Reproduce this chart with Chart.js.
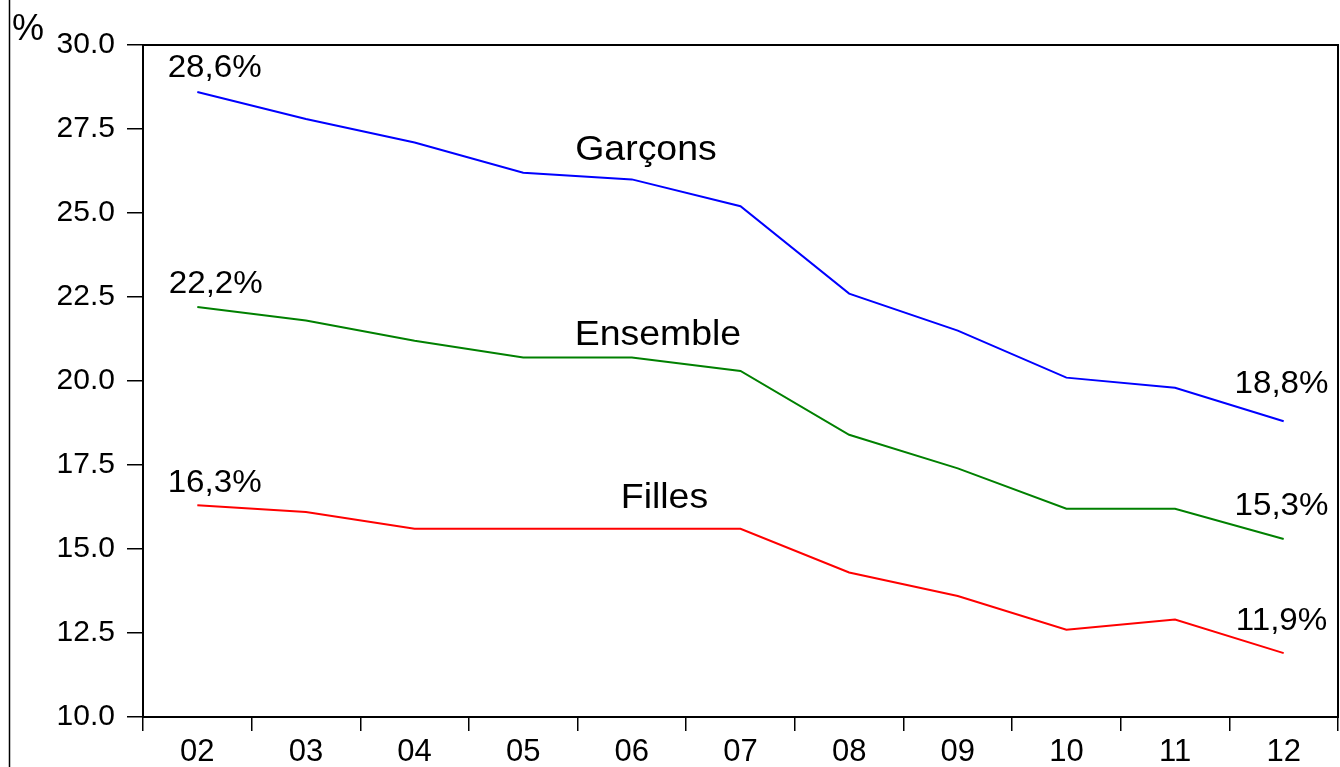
<!DOCTYPE html>
<html>
<head>
<meta charset="utf-8">
<script src="https://cdn.jsdelivr.net/npm/chart.js@4/dist/chart.umd.min.js"></script>
<style>
  html, body { margin: 0; padding: 0; background: #fff; }
  #wrap { width: 1340px; height: 767px; position: relative; }
</style>
</head>
<body>
<div id="wrap"><canvas id="chart"></canvas></div>
<script>
    // annees (2002 - 2012)
    const years = ['02', '03', '04', '05', '06', '07', '08', '09', '10', '11', '12'];
    const garcons = [28.6, 27.8, 27.1, 26.2, 26.0, 25.2, 22.6, 21.5, 20.1, 19.8, 18.8];
    const ensemble = [22.2, 21.8, 21.2, 20.7, 20.7, 20.3, 18.4, 17.4, 16.2, 16.2, 15.3];
    const filles = [16.3, 16.1, 15.6, 15.6, 15.6, 15.6, 14.3, 13.6, 12.6, 12.9, 11.9];
    const yTicks = [10, 12.5, 15, 17.5, 20, 22.5, 25, 27.5, 30];

    // texts placed in data units: [text, category index, y value of baseline]
    const notes = [
        ['28,6%', 0.16, 29.05],
        ['22,2%', 0.17, 22.62],
        ['16,3%', 0.16, 16.70],
        ['18,8%', 9.98, 19.64],
        ['15,3%', 9.98, 16.01],
        ['11,9%', 9.98, 12.59],
        ['Garçons', 4.13, 26.58],
        ['Ensemble', 4.24, 21.07],
        ['Filles', 4.3, 16.22]
    ];

    const font = '"Liberation Sans", Arial, sans-serif';

    const extras = {
        id: 'extras',
        afterDraw(chart) {
            let ctx = chart.ctx;
            let a = chart.chartArea;
            let x = chart.scales.x;
            let y = chart.scales.y;
            ctx.save();
            ctx.strokeStyle = '#000';
            ctx.lineWidth = 2;
            ctx.strokeRect(a.left, a.top, a.right - a.left, a.bottom - a.top);
            // outer left line
            ctx.beginPath();
            ctx.moveTo(9.5, 0);
            ctx.lineTo(9.5, chart.height);
            ctx.lineWidth = 1.5;
            ctx.stroke();
            ctx.fillStyle = '#000';
            ctx.font = '36px ' + font;
            ctx.textBaseline = 'alphabetic';
            ctx.textAlign = 'left';
            ctx.fillText('%', 12, 40);
            ctx.textAlign = 'center';
            let step = x.getPixelForValue(1) - x.getPixelForValue(0);
            notes.forEach(n => {
                let pct = n[0].indexOf('%') > 0;
                ctx.font = (pct ? '31px ' : '35px ') + font;
                let px = x.getPixelForValue(0) + n[1] * step;
                let py = y.getPixelForValue(n[2]);
                ctx.save();
                ctx.translate(px, py);
                ctx.scale(1.07, 1);
                ctx.fillText(n[0], 0, 0);
                ctx.restore();
            });
            ctx.restore();
        }
    };

    new Chart(document.getElementById('chart'), {
        type: 'line',
        data: {
            labels: years,
            datasets: [
                { label: 'Garçons', data: garcons, borderColor: '#0000ff' },
                { label: 'Ensemble', data: ensemble, borderColor: '#008000' },
                { label: 'Filles', data: filles, borderColor: '#ff0000' }
            ]
        },
        options: {
            responsive: true,
            maintainAspectRatio: false,
            animation: false,
            events: [],
            elements: {
                line: { borderWidth: 2, tension: 0 },
                point: { radius: 0 }
            },
            layout: { padding: { top: 45, right: 2, left: 0, bottom: 0 } },
            plugins: { legend: { display: false }, tooltip: { enabled: false } },
            scales: {
                x: {
                    offset: true,
                    grid: { offset: true, drawOnChartArea: false, tickLength: 14, color: '#000', lineWidth: 1.5 },
                    border: { display: false },
                    ticks: { color: '#000', font: { family: font, size: 31 }, padding: 3, maxRotation: 0 },
                    afterFit: s => { s.height = 50; }
                },
                y: {
                    min: 10,
                    max: 30,
                    afterBuildTicks: s => { s.ticks = yTicks.map(v => ({ value: v })); },
                    grid: { drawOnChartArea: false, tickLength: 16, color: '#000', lineWidth: 1.5 },
                    border: { display: false },
                    ticks: {
                        color: '#000',
                        font: { family: font, size: 30 },
                        padding: 12,
                        callback: v => v.toFixed(1)
                    },
                    afterFit: s => { s.width = 143; }
                }
            }
        },
        plugins: [extras]
    });
</script>
</body>
</html>
